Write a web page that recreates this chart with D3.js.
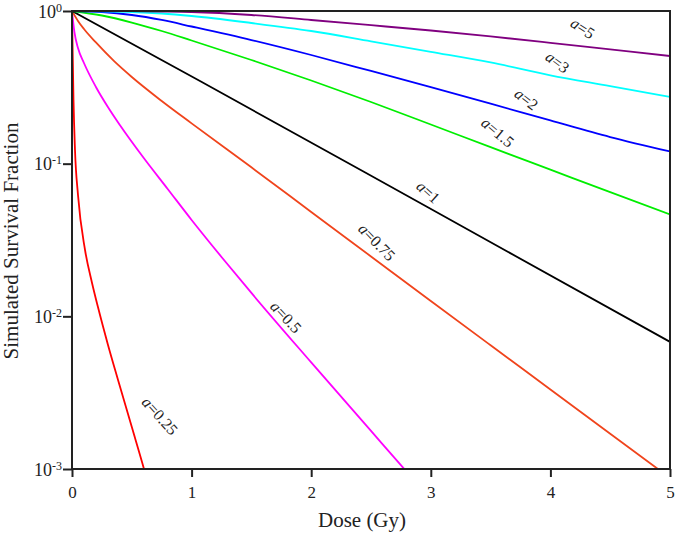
<!DOCTYPE html>
<html>
<head>
<meta charset="utf-8">
<script src="https://cdn.jsdelivr.net/npm/d3@7"></script>
<style>
  body { margin: 0; background: #fff; }
  svg { display: block; }
  text { font-family: "Liberation Serif", "Times New Roman", serif; fill: #222; }
</style>
</head>
<body>
<svg id="chart" width="675" height="534"></svg>
<script>
// values: [dose (Gy), surviving fraction]
const alphaValues = [0.25, 0.5, 0.75, 1, 1.5, 2, 3, 5];
const survA025 = [[0, 1], [0.004, 0.646], [0.0125, 0.261], [0.025, 0.123], [0.05, 0.0624], [0.109, 0.0272],
  [0.167, 0.0166], [0.217, 0.0115], [0.301, 0.0065], [0.385, 0.00383], [0.502, 0.00186], [0.602, 0.001], [0.62, 0.00089]];
const survA05 = [[0, 1], [0.02, 0.7287], [0.05, 0.5724], [0.1, 0.4565], [0.2, 0.3179], [0.3, 0.2351], [0.4, 0.1792],
  [0.6, 0.1089], [0.8, 0.06831], [1, 0.0428], [1.25, 0.02449], [1.5, 0.01423], [2, 0.004991], [2.5, 0.001776],
  [2.77, 0.001017], [2.85, 0.000861]];
const survA075 = [[0, 1], [0.05, 0.86], [0.1, 0.762], [0.2, 0.622], [0.35, 0.471], [0.5, 0.3696], [0.75, 0.2574],
  [1, 0.1836], [1.5, 0.0946], [2, 0.0483], [2.5, 0.02468], [3, 0.01261], [3.5, 0.006466], [4, 0.003321],
  [4.5, 0.001703], [5, 0.000874]];
const survA1 = [[0, 1], [1.07, 0.348], [2.99, 0.051], [5, 0.0068]];
const survA15 = [[0, 1], [0.25, 0.9344], [0.5, 0.8407], [0.75, 0.7396], [1, 0.6409], [1.5, 0.4776], [2, 0.3506],
  [2.5, 0.2535], [3, 0.1806], [3.5, 0.1282], [4, 0.09135], [4.5, 0.06508], [5, 0.04649]];
const survA2 = [[0, 1], [0.25, 0.985], [0.5, 0.9414], [0.75, 0.8733], [1, 0.7915], [1.5, 0.6456], [2, 0.515],
  [2.5, 0.4047], [3, 0.317], [3.5, 0.2471], [4, 0.1918], [4.5, 0.1495], [5, 0.1202]];
const survA3 = [[0, 1], [0.25, 0.9955], [0.5, 0.985], [0.75, 0.963], [1, 0.9274], [1.5, 0.8345], [2, 0.7396],
  [2.5, 0.6332], [3, 0.5405], [3.5, 0.46], [4, 0.3793], [4.5, 0.3223], [5, 0.2734]];
const survA5 = [[0, 1], [0.25, 0.99925], [0.5, 0.997], [0.75, 0.9925], [1, 0.985], [1.5, 0.9414], [2, 0.8733],
  [2.5, 0.8073], [3, 0.7452], [3.5, 0.6817], [4, 0.619], [4.5, 0.5603], [5, 0.5073]];

const xTicks = [0, 1, 2, 3, 4, 5];
const yTickExponents = [0, -1, -2, -3];

// styling / layout
const colors = ["#ff0000", "#ff00ff", "#f0441c", "#000000", "#00ee00", "#0000ff", "#00ffff", "#800080"];
// label anchor [dose, fraction, rotation]
const labelSpots = [[0.736, 0.00223, 48], [1.79, 0.0099, 47], [2.55, 0.0307, 46], [2.98, 0.0653, 42],
  [3.56, 0.161, 40], [3.80, 0.265, 38], [4.06, 0.463, 37], [4.27, 0.774, 33]];

const allSeries = [survA025, survA05, survA075, survA1, survA15, survA2, survA3, survA5];

const margin = {top: 11, right: 5, bottom: 65, left: 72};
const W = 675, H = 534;
const innerW = W - margin.left - margin.right;
const innerH = H - margin.top - margin.bottom;

const svg = d3.select("#chart");
const g = svg.append("g").attr("transform", `translate(${margin.left},${margin.top})`);

const x = d3.scaleLinear().domain([0, 5]).range([0, innerW]);
const y = d3.scaleLog().domain([1e-3, 1]).range([innerH, 0]);

g.append("clipPath").attr("id", "plotClip")
  .append("rect").attr("width", innerW).attr("height", innerH);

const line = d3.line()
  .x(d => x(d[0]))
  .y(d => y(d[1]))
  .curve(d3.curveMonotoneX);

g.append("g").attr("clip-path", "url(#plotClip)")
  .selectAll("path")
  .data(allSeries)
  .join("path")
  .attr("fill", "none")
  .attr("stroke", (d, i) => colors[i])
  .attr("stroke-width", 1.8)
  .attr("d", line);

// curve labels
const labels = g.append("g");
alphaValues.forEach((a, i) => {
  const [ld, ls, rot] = labelSpots[i];
  const t = labels.append("text")
    .attr("transform", `translate(${x(ld)},${y(ls)}) rotate(${rot})`)
    .attr("text-anchor", "middle")
    .attr("dy", "0.35em")
    .style("font-size", "16px");
  t.append("tspan").style("font-style", "italic").text("a");
  t.append("tspan").text("=" + a);
});

// x axis
const xAxis = g.append("g")
  .attr("transform", `translate(0,${innerH})`)
  .call(d3.axisBottom(x).tickValues(xTicks).tickFormat(d3.format("d")).tickSize(8).tickPadding(9));
xAxis.select(".domain").remove();
xAxis.selectAll("line").attr("stroke", "#222").attr("stroke-width", 2);
xAxis.selectAll("text").style("font-size", "17px").attr("fill", "#222").style("font-family", "Liberation Serif");

// y axis
const yAxis = g.append("g")
  .call(d3.axisLeft(y).tickValues(yTickExponents.map(e => Math.pow(10, e))).tickSize(9).tickFormat(""));
yAxis.select(".domain").remove();
yAxis.selectAll("line").attr("stroke", "#222").attr("stroke-width", 2);
yAxis.selectAll(".tick").each(function (d) {
  const e = Math.round(Math.log10(d));
  const t = d3.select(this).append("text")
    .attr("x", -10)
    .attr("dy", "0.35em")
    .attr("text-anchor", "end")
    .attr("fill", "#222")
    .style("font-size", "18px");
  t.append("tspan").text("10");
  t.append("tspan").attr("dy", "-0.5em").style("font-size", "12px").text(e);
});

// frame
g.append("rect")
  .attr("width", innerW).attr("height", innerH)
  .attr("fill", "none").attr("stroke", "#222").attr("stroke-width", 2);

// titles
svg.append("text")
  .attr("x", 362).attr("y", 527)
  .attr("text-anchor", "middle")
  .style("font-size", "21px")
  .text("Dose (Gy)");

svg.append("text")
  .attr("transform", `translate(18,241) rotate(-90)`)
  .attr("text-anchor", "middle")
  .style("font-size", "21px")
  .text("Simulated Survival Fraction");
</script>
</body>
</html>
